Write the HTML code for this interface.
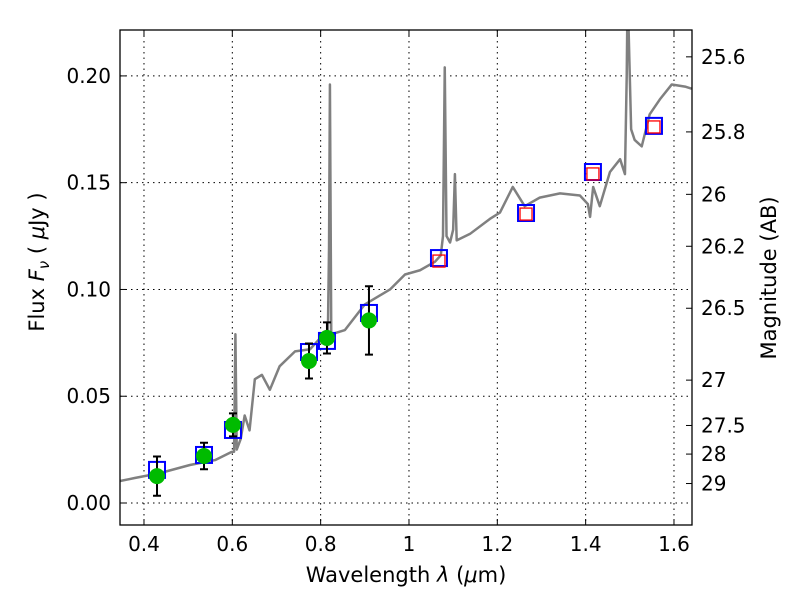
<!DOCTYPE html>
<html><head><meta charset="utf-8"><style>
body{margin:0;background:#fff;}
svg text{font-family:"DejaVu Sans","Liberation Sans",sans-serif;}
</style></head><body>
<svg id="c" width="800" height="600"></svg>
<script>
const specWave=[0.346,0.379,0.436,0.504,0.561,0.598,0.604,0.607,0.610,0.619,0.628,0.639,0.651,0.667,0.685,0.707,0.742,0.776,0.798,0.816,0.819,0.821,0.824,0.855,0.900,0.957,0.991,1.025,1.059,1.072,1.077,1.081,1.085,1.093,1.100,1.104,1.108,1.138,1.183,1.206,1.235,1.262,1.296,1.342,1.387,1.405,1.410,1.417,1.432,1.455,1.478,1.489,1.493,1.495,1.503,1.511,1.527,1.545,1.568,1.595,1.625,1.640];
const specFlux=[0.0103,0.0117,0.014,0.0178,0.0201,0.0239,0.024,0.079,0.025,0.030,0.041,0.034,0.058,0.060,0.053,0.064,0.071,0.072,0.077,0.074,0.120,0.196,0.079,0.081,0.093,0.100,0.107,0.109,0.113,0.116,0.125,0.204,0.125,0.122,0.128,0.154,0.123,0.126,0.133,0.136,0.148,0.139,0.143,0.145,0.144,0.140,0.134,0.148,0.139,0.155,0.161,0.154,0.200,0.240,0.175,0.170,0.167,0.182,0.189,0.196,0.195,0.194];
const bandWave=[0.4295,0.5359,0.6015,0.7736,0.8143,0.9094,1.0679,1.265,1.4165,1.5547];
const modelFlux=[0.0155,0.0225,0.0342,0.0707,0.0759,0.0890,0.1147,0.1358,0.1550,0.1766];
const obsWave=[0.4295,0.5359,0.6015,0.7736,0.8143,0.9094];
const obsFlux=[0.0126,0.0220,0.0366,0.0665,0.0773,0.0855];
const obsErr=[0.0092,0.0062,0.0054,0.0082,0.0073,0.0160];
const ulWave=[1.0679,1.265,1.4165,1.5547];
const ulFlux=[0.1133,0.1353,0.1541,0.1761];
const xTicks=[0.4,0.6,0.8,1.0,1.2,1.4,1.6];
const xTickLabels=["0.4","0.6","0.8","1","1.2","1.4","1.6"];
const yTicks=[0,0.05,0.1,0.15,0.2];
const yTickLabels=["0.00","0.05","0.10","0.15","0.20"];
const magTicks=[25.6,25.8,26,26.2,26.5,27,27.5,28,29];
const magTickLabels=["25.6","25.8","26","26.2","26.5","27","27.5","28","29"];

const L=120,R=692,T=30,B=525,X0=0.3457,X1=1.6408,Y0=-0.0103,Y1=0.2215;
const sx=v=>L+(v-X0)/(X1-X0)*(R-L);
const sy=v=>B-(v-Y0)/(Y1-Y0)*(B-T);
const NS="http://www.w3.org/2000/svg";
const svg=document.getElementById('c');
function mk(tag,attrs,parent){const e=document.createElementNS(NS,tag);for(const k in attrs)e.setAttribute(k,attrs[k]);(parent||svg).appendChild(e);return e;}
const clip=mk('clipPath',{id:'pc'});mk('rect',{x:L,y:T,width:R-L,height:B-T},clip);
xTicks.forEach((t,i)=>{const x=sx(t);
 const g=mk('line',{x1:x,x2:x,y1:T,y2:B,stroke:'#000','stroke-dasharray':'1.5,4','stroke-width':1});
 
 mk('line',{x1:x,x2:x,y1:B,y2:B-6,stroke:'#000'});mk('line',{x1:x,x2:x,y1:T,y2:T+6,stroke:'#000'});
 const tx=mk('text',{x:x,y:B+26,'text-anchor':'middle','font-size':20});tx.textContent=xTickLabels[i];
 });
yTicks.forEach((t,i)=>{const y=sy(t);
 const g=mk('line',{x1:L,x2:R,y1:y,y2:y,stroke:'#000','stroke-dasharray':'1.5,4','stroke-width':1});
 
 mk('line',{x1:L,x2:L+6,y1:y,y2:y,stroke:'#000'});
 const tx=mk('text',{x:L-9,y:y+7,'text-anchor':'end','font-size':20});tx.textContent=yTickLabels[i];
 });
magTicks.forEach((m,i)=>{const y=sy(Math.pow(10,(23.9-m)/2.5));
 mk('line',{x1:R,x2:R-6,y1:y,y2:y,stroke:'#000'});
 const tx=mk('text',{x:R+9,y:y+7,'font-size':20});tx.textContent=magTickLabels[i];
 });
const g=mk('g',{'clip-path':'url(#pc)'});
const sp=mk('polyline',{points:specWave.map((w,i)=>sx(w)+','+sy(specFlux[i])).join(' '),fill:'none',stroke:'#808080','stroke-width':2.5,'stroke-linejoin':'round'},g);

bandWave.forEach((w,i)=>{const r=mk('rect',{x:sx(w)-8,y:sy(modelFlux[i])-8,width:16,height:16,fill:'none',stroke:'#0000ff','stroke-width':2},g);
 });
ulWave.forEach((w,i)=>{const r=mk('rect',{x:sx(w)-6,y:sy(ulFlux[i])-6,width:12,height:12,fill:'none',stroke:'#ff0000','stroke-width':1.3},g);
 });
obsWave.forEach((w,i)=>{const x=sx(w),y1=sy(obsFlux[i]-obsErr[i]),y2=sy(obsFlux[i]+obsErr[i]);
 const eb=mk('path',{d:`M${x},${y1}V${y2}M${x-4},${y1}H${x+4}M${x-4},${y2}H${x+4}`,stroke:'#000','stroke-width':2,fill:'none'},g);
 
 const c=mk('circle',{cx:x,cy:sy(obsFlux[i]),r:8,fill:'#00bb00'},g);
 });
const fr=mk('rect',{x:L,y:T,width:R-L,height:B-T,fill:'none',stroke:'#000','stroke-width':1.3});

</script>
<svg width="800" height="600" style="position:absolute;left:0;top:0;pointer-events:none">
<text x="406" y="582" text-anchor="middle" font-size="21" font-family="DejaVu Sans, sans-serif">Wavelength  <tspan font-style="italic">λ</tspan> (<tspan font-style="italic">μ</tspan>m)</text>
<text transform="translate(44,262) rotate(-90)" text-anchor="middle" font-size="21" font-family="DejaVu Sans, sans-serif">Flux  <tspan font-style="italic">F</tspan><tspan font-style="italic" font-size="15" dy="5">ν</tspan><tspan dy="-5">  ( </tspan><tspan font-style="italic">μ</tspan>Jy )</text>
<text transform="translate(776,278) rotate(-90)" text-anchor="middle" font-size="21" font-family="DejaVu Sans, sans-serif">Magnitude (AB)</text>
</svg>
</body></html>
